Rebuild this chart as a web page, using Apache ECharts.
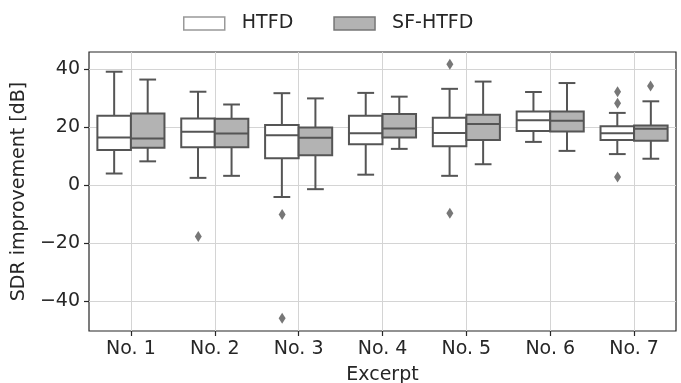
<!DOCTYPE html>
<html>
<head>
<meta charset="utf-8">
<script src="https://cdn.jsdelivr.net/npm/echarts@6/dist/echarts.min.js"></script>
<style>
  html, body { margin: 0; padding: 0; background: #fff; }
  #chart { width: 681px; height: 383px; }
</style>
</head>
<body>
<div id="chart"></div>
<script>
// excerpt names
var categories = ['No. 1', 'No. 2', 'No. 3', 'No. 4', 'No. 5', 'No. 6', 'No. 7'];
// [low whisker, Q1, median, Q3, high whisker] per excerpt, dB
var htfdStats = [
  [4.0, 12.1, 16.4, 23.9, 39.1],
  [2.5, 13.1, 18.4, 23.0, 32.2],
  [-4.1, 9.3, 17.2, 20.7, 31.7],
  [3.6, 14.1, 17.9, 23.9, 31.8],
  [3.2, 13.4, 18.0, 23.2, 33.2],
  [14.9, 18.7, 22.4, 25.4, 32.1],
  [10.7, 15.6, 17.9, 20.3, 24.9]
];
var sfStats = [
  [8.2, 12.9, 16.1, 24.7, 36.4],
  [3.2, 13.1, 17.8, 22.9, 27.8],
  [-1.4, 10.3, 16.3, 19.9, 29.9],
  [12.5, 16.4, 19.5, 24.5, 30.5],
  [7.2, 15.6, 21.1, 24.3, 35.7],
  [11.8, 18.5, 22.2, 25.4, 35.2],
  [9.1, 15.3, 19.4, 20.6, 28.9]
];
// outliers: [excerpt index, value]
var htfdOutliers = [[1, -17.7], [2, -10.1], [2, -45.9], [4, 41.7], [4, -9.7], [6, 32.2], [6, 28.2], [6, 2.8]];
var sfOutliers = [[6, 34.2]];
var yTicks = [-40, -20, 0, 20, 40];
var xTicks = [0, 1, 2, 3, 4, 5, 6];

var lineColor = '#555555';
var textColor = '#262626';
var font = 'DejaVu Sans';

function toRows(stats) {
  return stats.map(function (s, i) { return [i].concat(s); });
}

// draws one box (side -1 left, +1 right of the excerpt centre)
function boxRenderer(side, fill) {
  return function (params, api) {
    var x = api.value(0);
    var w = api.size([1, 0])[0] * 0.4;
    var cx = api.coord([x, 0])[0] + side * w / 2;
    var lo = api.coord([x, api.value(1)])[1];
    var q1 = api.coord([x, api.value(2)])[1];
    var med = api.coord([x, api.value(3)])[1];
    var q3 = api.coord([x, api.value(4)])[1];
    var hi = api.coord([x, api.value(5)])[1];
    var st = { stroke: lineColor, lineWidth: 2, fill: null };
    var cap = w / 4;
    return {
      type: 'group',
      children: [
        { type: 'line', shape: { x1: cx, y1: lo, x2: cx, y2: q1 }, style: st },
        { type: 'line', shape: { x1: cx, y1: q3, x2: cx, y2: hi }, style: st },
        { type: 'line', shape: { x1: cx - cap, y1: lo, x2: cx + cap, y2: lo }, style: st },
        { type: 'line', shape: { x1: cx - cap, y1: hi, x2: cx + cap, y2: hi }, style: st },
        { type: 'rect', shape: { x: cx - w / 2, y: q3, width: w, height: q1 - q3 },
          style: { fill: fill, stroke: lineColor, lineWidth: 2 } },
        { type: 'line', shape: { x1: cx - w / 2, y1: med, x2: cx + w / 2, y2: med }, style: st }
      ]
    };
  };
}

var myChart = echarts.init(document.getElementById('chart'));
var option = {
  animation: false,
  legend: {
    top: 9,
    left: 178,
    itemWidth: 41,
    itemHeight: 13,
    itemGap: 40,
    formatter: '  {name}',
    textStyle: { fontFamily: font, fontSize: 19, color: textColor },
    data: [
      { name: 'HTFD', icon: 'rect', itemStyle: { color: '#ffffff', borderColor: '#999999', borderWidth: 1.5 } },
      { name: 'SF-HTFD', icon: 'rect', itemStyle: { color: '#b3b3b3', borderColor: '#777777', borderWidth: 1.5 } }
    ]
  },
  grid: {
    left: 89, right: 5, top: 52, bottom: 52,
    outerBoundsMode: 'none',
    show: true, borderColor: textColor, borderWidth: 1.2
  },
  xAxis: {
    type: 'value',
    min: -0.5, max: 6.5, splitNumber: 7,
    name: 'Excerpt', nameLocation: 'middle', nameGap: 35,
    nameTextStyle: { fontFamily: font, fontSize: 19, color: textColor },
    axisLine: { show: false, onZero: false },
    axisTick: { show: true, length: 5, customValues: xTicks, lineStyle: { color: textColor, width: 1.2 } },
    axisLabel: {
      customValues: xTicks, margin: 9,
      fontFamily: font, fontSize: 19, color: textColor,
      formatter: function (v) { return categories[Math.round(v)] || ''; }
    },
    splitLine: { show: true, lineStyle: { color: '#d4d4d4', width: 1 } }
  },
  yAxis: {
    type: 'value',
    min: -50.3, max: 45.9, splitNumber: 5,
    name: 'SDR improvement [dB]', nameLocation: 'middle', nameGap: 39,
    nameTextStyle: { fontFamily: font, fontSize: 19, color: textColor },
    axisLine: { show: false, onZero: false },
    axisTick: { show: true, length: 5, customValues: yTicks, lineStyle: { color: textColor, width: 1.2 } },
    axisLabel: {
      customValues: yTicks, margin: 9,
      fontFamily: font, fontSize: 19, color: textColor,
      formatter: function (v) { return v < 0 ? '\u2212' + (-v) : String(v); }
    },
    splitLine: { show: true, lineStyle: { color: '#d4d4d4', width: 1 } }
  },
  series: [
    {
      name: 'HTFD', type: 'custom',
      renderItem: boxRenderer(-1, '#ffffff'),
      encode: { x: 0, y: [1, 2, 3, 4, 5] },
      itemStyle: { color: '#ffffff' },
      data: toRows(htfdStats), z: 3
    },
    {
      name: 'SF-HTFD', type: 'custom',
      renderItem: boxRenderer(1, '#b3b3b3'),
      encode: { x: 0, y: [1, 2, 3, 4, 5] },
      itemStyle: { color: '#b3b3b3' },
      data: toRows(sfStats), z: 3
    },
    {
      name: 'HTFD', type: 'scatter',
      symbol: 'diamond', symbolSize: [7, 11], symbolOffset: [-16.5, 0],
      itemStyle: { color: lineColor },
      data: htfdOutliers, z: 4
    },
    {
      name: 'SF-HTFD', type: 'scatter',
      symbol: 'diamond', symbolSize: [7, 11], symbolOffset: [16.5, 0],
      itemStyle: { color: lineColor },
      data: sfOutliers, z: 4
    }
  ]
};
myChart.setOption(option);
</script>
</body>
</html>
